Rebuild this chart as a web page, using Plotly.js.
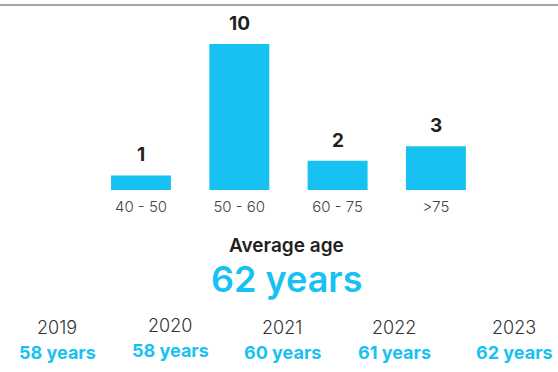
<!DOCTYPE html>
<html>
<head>
<meta charset="utf-8">
<script src="https://cdn.plot.ly/plotly-3.0.1.min.js"></script>
<style>html,body{margin:0;padding:0;background:#fff;}#chart{width:558px;height:372px;}</style>
</head>
<body>
<div id="chart"></div>
<script>
const categories = ["40 - 50", "50 - 60", "60 - 75", ">75"];
const counts = [1, 10, 2, 3];
const averageLabel = "Average age";
const averageValue = "62 years";
const years = ["2019", "2020", "2021", "2022", "2023"];
const yearAverages = ["58 years", "58 years", "60 years", "61 years", "62 years"];

const W = 558, H = 372;
const baseY = 190, topY = 44;          // plot area in pixels
const plotH = baseY - topY;
const py = y => (baseY - y) / plotH;   // pixel -> paper y
const yearX = [57, 170, 282, 394, 514];
const yearY = [327, 325, 327, 327, 327];

const cyan = "#17c1f1";
const dark = "#231f20";
const FONT = "Inter, Lato, sans-serif";

const annotations = [];
categories.forEach((c, i) => {
  annotations.push({
    x: c, y: counts[i], xref: "x", yref: "y",
    text: String(counts[i]), showarrow: false,
    yanchor: "bottom", yshift: 7,
    font: {family: FONT, size: 19, color: dark, weight: 700}
  });
});
annotations.push({
  x: 286 / W, y: py(245), xref: "paper", yref: "paper",
  text: averageLabel, showarrow: false, xanchor: "center", yanchor: "middle",
  font: {family: FONT, size: 19, color: dark, weight: 600}
});
annotations.push({
  x: 286 / W, y: py(279), xref: "paper", yref: "paper",
  text: averageValue, showarrow: false, xanchor: "center", yanchor: "middle",
  font: {family: FONT, size: 36, color: cyan, weight: 600}
});
years.forEach((yr, i) => {
  annotations.push({
    x: yearX[i] / W, y: py(yearY[i]), xref: "paper", yref: "paper",
    text: yr, showarrow: false, xanchor: "center", yanchor: "middle",
    font: {family: FONT, size: 18, color: "#333333", weight: 300}
  });
  annotations.push({
    x: yearX[i] / W, y: py(yearY[i] + 25), xref: "paper", yref: "paper",
    text: yearAverages[i], showarrow: false, xanchor: "center", yanchor: "middle",
    font: {family: FONT, size: 18, color: cyan, weight: 700}
  });
});

const step = 98.3, firstCenter = 141;
const data = [{
  type: "bar",
  x: categories,
  y: counts,
  marker: {color: cyan},
  hoverinfo: "none",
  cliponaxis: false
}];

const layout = {
  width: W, height: H,
  margin: {l: 0, r: 0, t: topY, b: H - baseY, pad: 0},
  paper_bgcolor: "#ffffff",
  plot_bgcolor: "#ffffff",
  bargap: 0.39,
  showlegend: false,
  xaxis: {
    type: "category",
    range: [-firstCenter / step, (W - firstCenter) / step],
    showgrid: false, zeroline: false, showline: false,
    ticks: "", ticklabelstandoff: 6,
    tickfont: {family: FONT, size: 15, color: "#444444", weight: 300},
    fixedrange: true
  },
  yaxis: {
    range: [0, 10],
    visible: false,
    fixedrange: true
  },
  shapes: [{
    type: "line", xref: "paper", yref: "paper",
    x0: 0, x1: 1, y0: py(5), y1: py(5),
    line: {color: "#a6a6a6", width: 2}
  }],
  annotations: annotations
};

Plotly.newPlot("chart", data, layout, {displayModeBar: false, staticPlot: true});
</script>
</body>
</html>
